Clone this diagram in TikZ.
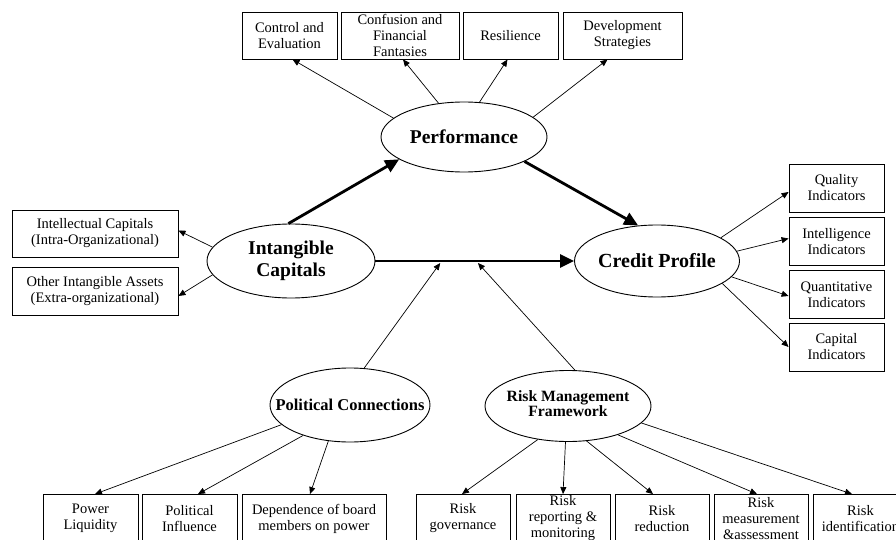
\documentclass[tikz,border=0pt]{standalone}
\usepackage{fontspec}
\setmainfont{Liberation Serif}
\usetikzlibrary{shapes.geometric}
\usetikzlibrary{arrows.meta}

\newcommand{\nowide}[1]{\makebox[0pt]{#1}}

\begin{document}
\begin{tikzpicture}[
    x=1pt, y=-1pt,
    box/.style={
        draw=black, line width=.9pt,
        align=center, inner sep=0pt,
        minimum width=95pt, minimum height=48pt,
        font=\fontsize{14.5}{16}\selectfont
    },
    oval/.style={
        ellipse, draw=black, line width=.9pt,
        inner sep=0pt, align=center
    },
    arr/.style={line width=.7pt, -{Triangle[length=7pt,width=6pt]}},
    bigarr/.style={line width=2.8pt, -{Triangle[length=14pt,width=13pt]}}
]
\useasboundingbox (0,0) rectangle (896,540);

% ellipses
\node[oval, minimum width=166pt, minimum height=70pt,
      font=\fontsize{19.5}{22}\selectfont\bfseries] (perf) at (464,137) {Performance};
\node[oval, minimum width=168pt, minimum height=74pt,
      font=\fontsize{19.5}{22}\selectfont\bfseries] (ic) at (291,261) {Intangible\\Capitals};
\node[oval, minimum width=165pt, minimum height=72pt,
      font=\fontsize{20}{22}\selectfont\bfseries] (cp) at (657,261) {\nowide{Credit Profile}};
\node[oval, minimum width=160pt, minimum height=74pt,
      font=\fontsize{16.5}{18}\selectfont\bfseries] (pc) at (350,405) {\nowide{Political Connections}};
\node[oval, minimum width=166pt, minimum height=71pt,
      font=\fontsize{15.7}{15}\selectfont\bfseries] (rm) at (568,406)
      {\nowide{\begin{tabular}{@{}c@{}}Risk Management\\Framework\end{tabular}}};

% top boxes
\node[box, minimum height=47pt] (ctrl) at (289.5,35.5) {Control and\\Evaluation};
\node[box, minimum height=47pt, minimum width=118pt] (conf) at (400,35.5) {Confusion and\\Financial\\Fantasies};
\node[box, minimum height=47pt] (resil) at (510.5,35.5) {Resilience};
\node[box, minimum height=47pt, minimum width=119pt] (dev) at (622.5,35.5) {Development\\Strategies};

% left boxes
\node[box, minimum width=166pt, minimum height=47pt] (intel) at (95,233.5) {Intellectual Capitals\\(Intra-Organizational)};
\node[box, minimum width=166pt] (other) at (95,291) {Other Intangible Assets\\(Extra-organizational)};

% right boxes
\node[box] (qual)  at (836.5,188)   {Quality\\Indicators};
\node[box] (intg)  at (836.5,241.5) {Intelligence\\Indicators};
\node[box] (quant) at (836.5,294.5) {Quantitative\\Indicators};
\node[box] (capi)  at (836.5,347)   {Capital\\Indicators};

% bottom boxes
\node[box] (pow)  at (90.5,518.5)  {Power\\Liquidity};
\node[box] (pinf) at (189.5,518.5) {Political\\Influence};
\node[box, minimum width=144pt] (dep) at (314,518.5) {Dependence of board\\members on power};
\node[box, minimum width=94pt] (gov)   at (463,518.5)   {Risk\\governance};
\node[box, minimum width=94pt] (rep)   at (563,518.5)   {Risk\\reporting \&\\monitoring};
\node[box, minimum width=94pt] (red)   at (662,518.5)   {Risk\\reduction};
\node[box, minimum width=94pt] (meas)  at (761,518.5)   {Risk\\measurement\\\&assessment};
\node[box] (ident) at (860.5,518.5) {Risk\\identification};

% main flow
\draw[bigarr] (ic.94) -- (perf.199);
\draw[bigarr] (perf.338) -- (cp.118);
\draw[bigarr] (ic.east) -- coordinate[pos=.326] (j1) coordinate[pos=.516] (j2) (cp.west);

\draw[arr] (pc.69) -- ([yshift=-2pt]j1);
\draw[arr] (rm.79) -- ([yshift=-2pt]j2);

\draw[arr] (perf.165) -- ([xshift=3pt]ctrl.south);
\draw[arr] (perf.127) -- ([xshift=3pt]conf.south);
\draw[arr] (perf.66)  -- ([xshift=-3pt]resil.south);
\draw[arr] (perf.16)  -- ([xshift=-15pt]dev.south);

\draw[arr] (ic.170) -- ([yshift=3pt]intel.east);
\draw[arr] (ic.190) -- ([yshift=-5pt]other.east);

\draw[arr] (cp.20)  -- ([yshift=-4pt]qual.west);
\draw[arr] (cp.7)   -- ([yshift=3pt]intg.west);
\draw[arr] (cp.348) -- ([yshift=-1.5pt]quant.west);
\draw[arr] (cp.341) -- (capi.west);

\draw[arr] (pc.196) -- ([xshift=4.5pt]pow.north);
\draw[arr] (pc.213) -- ([xshift=8.5pt]pinf.north);
\draw[arr] (pc.239) -- ([xshift=-4pt]dep.north);

\draw[arr] (rm.228) -- ([xshift=-1pt]gov.north);
\draw[arr] (rm.266) -- (rep.north);
\draw[arr] (rm.298) -- ([xshift=-9pt]red.north);
\draw[arr] (rm.330) -- ([xshift=-4pt]meas.north);
\draw[arr] (rm.347) -- ([xshift=-8.5pt]ident.north);
\end{tikzpicture}
\end{document}
